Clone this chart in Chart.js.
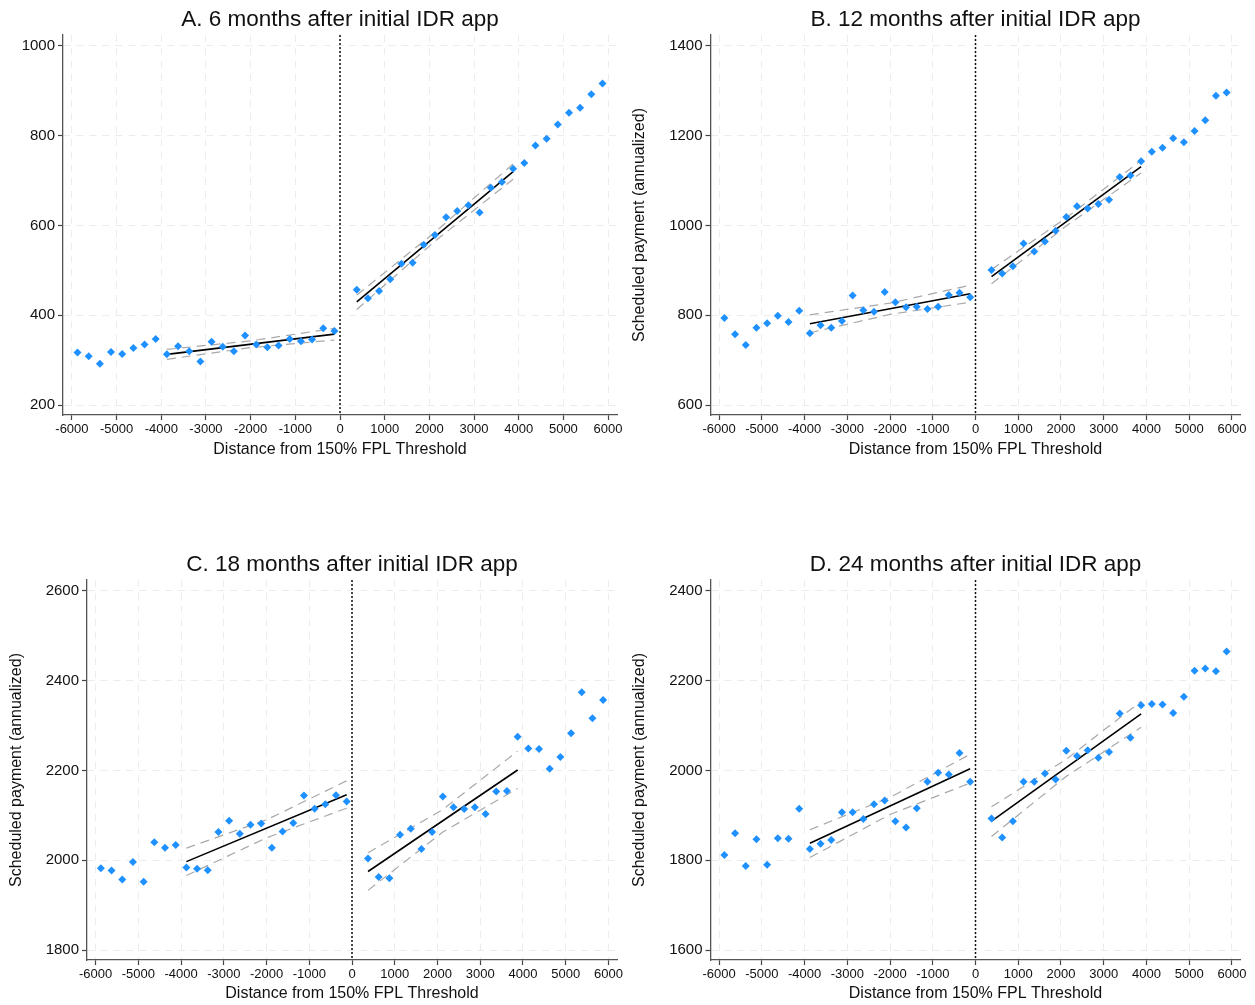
<!DOCTYPE html>
<html>
<head>
<meta charset="utf-8">
<script src="https://cdn.jsdelivr.net/npm/chart.js@4/dist/chart.umd.min.js"></script>
<style>
  body { margin: 0; background: #fff; }
  #wrap { position: relative; width: 1255px; height: 1005px; }
  canvas { position: absolute; }
</style>
</head>
<body>
<div id="wrap">
  <canvas id="chartA" width="627" height="470" style="left:0;top:0"></canvas>
  <canvas id="chartB" width="628" height="470" style="left:627px;top:0"></canvas>
  <canvas id="chartC" width="627" height="460" style="left:0;top:545px"></canvas>
  <canvas id="chartD" width="628" height="460" style="left:627px;top:545px"></canvas>
</div>
<script>
// bin centres (distance from threshold)
const xLeft = [-5875, -5625, -5375, -5125, -4875, -4625, -4375, -4125, -3875, -3625, -3375, -3125,
  -2875, -2625, -2375, -2125, -1875, -1625, -1375, -1125, -875, -625, -375, -125];
const xRight = [375, 625, 875, 1125, 1375, 1625, 1875, 2125, 2375, 2625, 2875, 3125,
  3375, 3625, 3875, 4125, 4375, 4625, 4875, 5125, 5375, 5625, 5875];
const fitXLeft = [-3875, -125];
const fitXRight = [375, 3875];
const ciXLeft = [-3875, -2000, -125];
const ciXRight = [375, 2125, 3875];
const xTicks = [-6000, -5000, -4000, -3000, -2000, -1000, 0, 1000, 2000, 3000, 4000, 5000, 6000];

// A. 6 months
const aLeft = [317, 309, 292, 318, 314, 327, 335, 347, 313, 331, 320, 297, 341, 330, 320, 355, 335, 329, 333, 347, 342, 346, 371, 365];
const aRight = [457, 438, 454, 480, 515, 517, 557, 579, 618, 632, 645, 629, 684, 697, 726, 739, 778, 793, 825, 851, 862, 892, 916];
const aFitLeft = [313, 358];
const aFitRight = [430, 720];
const aUpLeft = [324, 343, 371];
const aLoLeft = [302, 328, 345];
const aUpRight = [445, 585, 737];
const aLoRight = [413, 565, 703];
const aTicks = [200, 400, 600, 800, 1000];

// B. 12 months
const bLeft = [794, 758, 734, 772, 782, 799, 785, 810, 760, 778, 772, 787, 844, 811, 808, 852, 829, 818, 819, 814, 819, 845, 850, 840];
const bRight = [901, 893, 909, 960, 942, 964, 988, 1019, 1043, 1038, 1048, 1057, 1108, 1111, 1143, 1164, 1173, 1194, 1185, 1210, 1234, 1289, 1296];
const bFitLeft = [781, 848];
const bFitRight = [886, 1131];
const bUpLeft = [801, 827, 867];
const bLoLeft = [761, 802, 829];
const bUpRight = [902, 1017, 1145];
const bLoRight = [870, 999, 1117];
const bTicks = [600, 800, 1000, 1200, 1400];

// C. 18 months
const cLeft = [1982, 1977, 1957, 1996, 1952, 2040, 2028, 2034, 1984, 1981, 1978, 2063, 2088, 2059, 2079, 2082, 2028, 2064, 2083, 2144, 2115, 2125, 2145, 2131];
const cRight = [2004, 1963, 1960, 2057, 2070, 2025, 2063, 2142, 2118, 2114, 2118, 2103, 2153, 2154, 2275, 2249, 2248, 2204, 2230, 2283, 2374, 2316, 2357];
const cFitLeft = [1997, 2146];
const cFitRight = [1975, 2201];
const cUpLeft = [2027, 2090, 2177];
const cLoLeft = [1966, 2050, 2116];
const cUpRight = [2017, 2113, 2243];
const cLoRight = [1933, 2063, 2160];
const cTicks = [1800, 2000, 2200, 2400, 2600];

// D. 24 months
const dLeft = [1812, 1860, 1787, 1847, 1790, 1849, 1848, 1915, 1825, 1837, 1845, 1907, 1907, 1892, 1925, 1933, 1887, 1873, 1916, 1975, 1995, 1991, 2039, 1975];
const dRight = [1893, 1851, 1887, 1975, 1975, 1993, 1980, 2044, 2032, 2045, 2028, 2041, 2127, 2073, 2145, 2148, 2147, 2128, 2164, 2222, 2227, 2221, 2265];
const dFitLeft = [1838, 2004];
const dFitRight = [1887, 2126];
const dUpLeft = [1868, 1940, 2036];
const dLoLeft = [1806, 1902, 1972];
const dUpRight = [1919, 2025, 2154];
const dLoRight = [1853, 1987, 2096];
const dTicks = [1600, 1800, 2000, 2200, 2400];

const FONT = "'Liberation Sans', Arial, sans-serif";
const BLUE = '#1e90ff';

function pts(xs, ys) {
  return xs.map((x, i) => ({ x: x, y: ys[i] }));
}

// dotted threshold line at x = 0
const zeroLine = {
  id: 'zeroLine',
  beforeDatasetsDraw(chart) {
    const { ctx, chartArea, scales } = chart;
    const px = scales.x.getPixelForValue(0);
    ctx.save();
    ctx.strokeStyle = '#111';
    ctx.lineWidth = 1.5;
    ctx.setLineDash([2, 2]);
    ctx.beginPath();
    ctx.moveTo(px, chartArea.top);
    ctx.lineTo(px, chartArea.bottom);
    ctx.stroke();
    ctx.restore();
  }
};

function makePanel(id, p) {
  const ciStyle = { borderColor: '#a8a8a8', borderWidth: 1.2, borderDash: [9, 6], pointRadius: 0, showLine: true, order: 3 };
  const fitStyle = { borderColor: '#000', borderWidth: 1.6, pointRadius: 0, showLine: true, order: 2 };
  const dotStyle = { backgroundColor: BLUE, borderColor: BLUE, pointStyle: 'rectRot', pointRadius: 4, borderWidth: 0, order: 1 };

  return new Chart(document.getElementById(id), {
    type: 'scatter',
    data: {
      datasets: [
        Object.assign({ data: pts(xLeft, p.left) }, dotStyle),
        Object.assign({ data: pts(xRight, p.right) }, dotStyle),
        Object.assign({ data: pts(fitXLeft, p.fitLeft) }, fitStyle),
        Object.assign({ data: pts(fitXRight, p.fitRight) }, fitStyle),
        Object.assign({ data: pts(ciXLeft, p.upLeft) }, ciStyle),
        Object.assign({ data: pts(ciXLeft, p.loLeft) }, ciStyle),
        Object.assign({ data: pts(ciXRight, p.upRight) }, ciStyle),
        Object.assign({ data: pts(ciXRight, p.loRight) }, ciStyle)
      ]
    },
    plugins: [zeroLine],
    options: {
      responsive: false,
      animation: false,
      devicePixelRatio: 1,
      layout: { padding: { left: 0, right: p.padRight, top: 0, bottom: 0 } },
      plugins: {
        legend: { display: false },
        tooltip: { enabled: false },
        title: {
          display: true,
          text: p.title,
          fullSize: false,
          color: '#111',
          font: { family: FONT, size: 22.5, weight: 'normal', lineHeight: 1.2 },
          padding: { top: 6, bottom: 2 }
        }
      },
      scales: {
        x: {
          type: 'linear',
          min: -6200,
          max: 6200,
          afterBuildTicks: (axis) => { axis.ticks = xTicks.map(v => ({ value: v })); },
          afterFit: (axis) => { axis.height = p.xHeight; },
          ticks: { color: '#111', font: { family: FONT, size: 13 }, padding: 2, maxRotation: 0, callback: v => String(v) },
          grid: { color: '#ececec', lineWidth: 1, tickColor: '#444', tickLength: 5, tickWidth: 1.2 },
          border: { display: true, color: '#555', width: 1.3, dash: [7, 6] },
          title: {
            display: true,
            text: 'Distance from 150% FPL Threshold',
            color: '#111',
            font: { family: FONT, size: 16 },
            padding: { top: 0, bottom: p.xTitlePad }
          }
        },
        y: {
          type: 'linear',
          min: p.yMin,
          max: p.yMax,
          afterBuildTicks: (axis) => { axis.ticks = p.yTicks.map(v => ({ value: v })); },
          afterFit: (axis) => { axis.width = p.yWidth; },
          ticks: { color: '#111', font: { family: FONT, size: 15 }, padding: 3, callback: v => String(v) },
          grid: { color: '#ececec', lineWidth: 1, tickColor: '#444', tickLength: 5, tickWidth: 1.2 },
          border: { display: true, color: '#555', width: 1.3, dash: [7, 6] },
          title: {
            display: p.yTitle,
            text: 'Scheduled payment (annualized)',
            color: '#111',
            font: { family: FONT, size: 16 },
            padding: { top: p.yTitlePad, bottom: 0 }
          }
        }
      }
    }
  });
}

makePanel('chartA', {
  title: 'A. 6 months after initial IDR app',
  left: aLeft, right: aRight, fitLeft: aFitLeft, fitRight: aFitRight,
  upLeft: aUpLeft, loLeft: aLoLeft, upRight: aUpRight, loRight: aLoRight,
  yTicks: aTicks, yMin: 178, yMax: 1024,
  yWidth: 63, padRight: 10, xHeight: 55, xTitlePad: 10.4, yTitle: false, yTitlePad: 0
});

makePanel('chartB', {
  title: 'B. 12 months after initial IDR app',
  left: bLeft, right: bRight, fitLeft: bFitLeft, fitRight: bFitRight,
  upLeft: bUpLeft, loLeft: bLoLeft, upRight: bUpRight, loRight: bLoRight,
  yTicks: bTicks, yMin: 578, yMax: 1424,
  yWidth: 83.5, padRight: 14.5, xHeight: 55, xTitlePad: 10.4, yTitle: true, yTitlePad: 3.4
});

makePanel('chartC', {
  title: 'C. 18 months after initial IDR app',
  left: cLeft, right: cRight, fitLeft: cFitLeft, fitRight: cFitRight,
  upLeft: cUpLeft, loLeft: cLoLeft, upRight: cUpRight, loRight: cLoRight,
  yTicks: cTicks, yMin: 1778, yMax: 2624,
  yWidth: 87, padRight: 10, xHeight: 45, xTitlePad: 1.4, yTitle: true, yTitlePad: 7.4
});

makePanel('chartD', {
  title: 'D. 24 months after initial IDR app',
  left: dLeft, right: dRight, fitLeft: dFitLeft, fitRight: dFitRight,
  upLeft: dUpLeft, loLeft: dLoLeft, upRight: dUpRight, loRight: dLoRight,
  yTicks: dTicks, yMin: 1578, yMax: 2424,
  yWidth: 83.5, padRight: 14.5, xHeight: 45, xTitlePad: 1.4, yTitle: true, yTitlePad: 3.4
});
</script>
</body>
</html>
